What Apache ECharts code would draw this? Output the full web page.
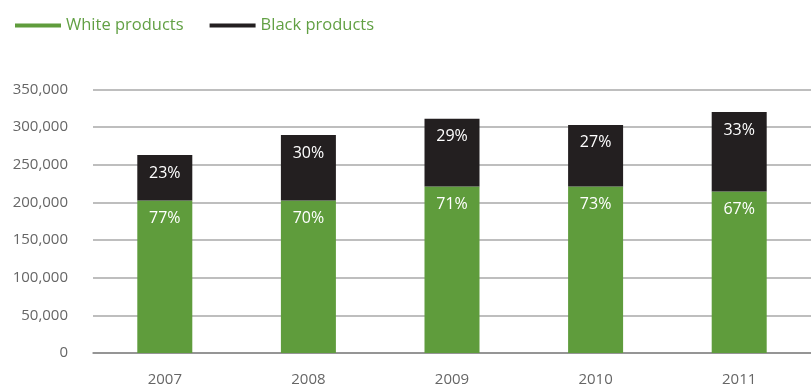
<!DOCTYPE html>
<html>
<head>
<meta charset="utf-8">
<script src="https://cdn.jsdelivr.net/npm/echarts@6/dist/echarts.min.js"></script>
<style>
html,body{margin:0;padding:0;background:#fff;}
#c{width:811px;height:387px;}
</style>
</head>
<body>
<div id="c"></div>
<script>
const categories = ['2007','2008','2009','2010','2011'];
const whiteValues = [202500, 202500, 221000, 221000, 214500];
const blackValues = [60500, 87000, 90000, 82000, 105500];
const whiteLabels = ['77%','70%','71%','73%','67%'];
const blackLabels = ['23%','30%','29%','27%','33%'];
const yTicks = [0, 50000, 100000, 150000, 200000, 250000, 300000, 350000];

const GREEN = '#5f9c3c';
const BLACK = '#231f20';
const FONT = '"Open Sans", "Noto Sans", sans-serif';

const chart = echarts.init(document.getElementById('c'), null, {renderer:'canvas'});
chart.setOption({
  animation: false,
  textStyle: {fontFamily: FONT},
  legend: {
    left: 10, top: 12,
    icon: 'rect', itemWidth: 46, itemHeight: 4, itemGap: 26,
    textStyle: {color: '#62a044', fontSize: 16.5, fontFamily: FONT},
    data: ['White products','Black products']
  },
  grid: {left: 93, right: 0, top: 89.5, bottom: 33, containLabel: false},
  xAxis: {
    type: 'category', data: categories,
    axisLine: {lineStyle: {color: '#888', width: 1.5}},
    axisTick: {show: false},
    axisLabel: {color: '#666', fontSize: 15, margin: 19, fontFamily: FONT}
  },
  yAxis: {
    type: 'value', min: yTicks[0], max: yTicks[yTicks.length-1], interval: 50000,
    axisLine: {show: false}, axisTick: {show: false},
    splitLine: {lineStyle: {color: '#a8a8a8', width: 1.5}},
    axisLabel: {color: '#666', fontSize: 15, margin: 25, fontFamily: FONT,
      formatter: v => v.toLocaleString('en-US')}
  },
  series: [
    {
      name: 'White products', type: 'bar', stack: 't', barWidth: 55,
      itemStyle: {color: GREEN},
      data: whiteValues,
      label: {show: true, position: 'insideTop', distance: 10, color: '#fff', fontSize: 16,
        fontFamily: FONT, formatter: p => whiteLabels[p.dataIndex]}
    },
    {
      name: 'Black products', type: 'bar', stack: 't', barWidth: 55,
      itemStyle: {color: BLACK},
      data: blackValues,
      label: {show: true, position: 'insideTop', distance: 10, color: '#fff', fontSize: 16,
        fontFamily: FONT, formatter: p => blackLabels[p.dataIndex]}
    }
  ]
});
</script>
</body>
</html>
